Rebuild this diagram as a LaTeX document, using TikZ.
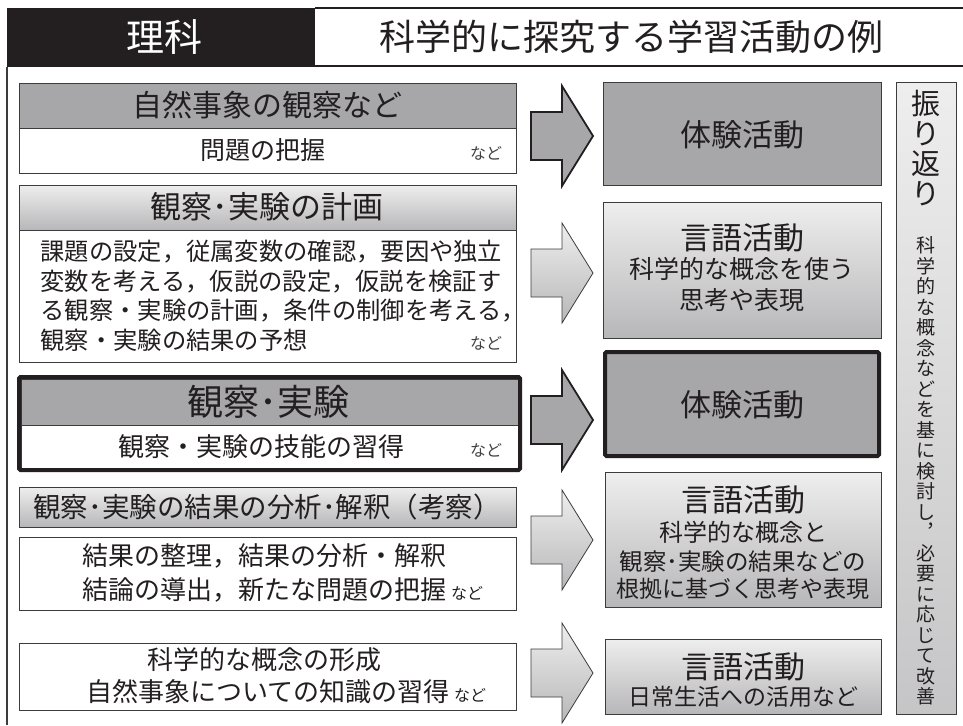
\documentclass[tikz,border=0pt]{standalone}
\usepackage{fontspec}
\setmainfont{Noto Sans CJK JP}
\usetikzlibrary{fit,shadows}
\definecolor{ink}{RGB}{35,31,32}
\definecolor{darkfill}{RGB}{167,167,170}
\definecolor{lighttop}{RGB}{238,238,238}
\definecolor{lightbot}{RGB}{183,183,185}
\definecolor{edgegray}{RGB}{60,60,60}
\newcommand\fs[1]{\fontsize{#1}{#1}\selectfont}
\newcommand\blockarrow[2]{%
  \draw[#1] (#2) ++(0,-24) -- ++(31,0) -- ++(0,-26) -- ++(31,50) -- ++(-31,50) -- ++(0,-26) -- ++(-31,0) -- cycle;}
\begin{document}
\begin{tikzpicture}[x=1pt,y=-1pt,
  every node/.style={inner sep=0pt, outer sep=0pt, text=ink},
  frm/.style={draw=edgegray, line width=0.8pt},
  shad/.style={drop shadow={shadow xshift=1.3pt, shadow yshift=-1.3pt, fill=black, opacity=0.22}},
  darkbox/.style={frm, fill=darkfill},
  lightbox/.style={frm, top color=lighttop, bottom color=lightbot},
  whitebox/.style={frm, fill=white},
  heavyframe/.style={draw=ink, line width=4pt, rounded corners=1.5pt},
  darkarrow/.style={draw=ink, line width=1.8pt, fill=darkfill, line join=miter},
  lightarrow/.style={draw=edgegray, line width=0.8pt, top color=lighttop, bottom color=lightbot, line join=miter},
  nado/.style={font=\fs{16}, text=ink!85},
  vtext/.style={align=center}
]
\useasboundingbox (0,0) rectangle (963,725);
\fill[white] (0,0) rectangle (963,725);

% ---------- header ----------
\node (hdrbox) [fill=ink, fit={(7,8) (315,67)}] {};
\node (hdrtext) at (164,37) [text=white, font=\fs{38}] {理科};
\draw[ink, line width=2pt] (315,8) -- (963,8);
\draw[ink, line width=2pt] (315,66) -- (963,66);
\node (title) at (631,37) [font=\fs{36}] {科学的に探究する学習活動の例};
\draw[edgegray, line width=1.3pt] (7,67) -- (7,725);

% ---------- left column ----------
\node (l1h) [darkbox, shad, fit={(19,83) (516,128)}] {};
\node (l1b) [whitebox, shad, fit={(19,128) (516,173)}] {};
\node (l1ht) at (267,105) [font=\fs{30}] {自然事象の観察など};
\node (l1bt) at (263,150) [font=\fs{25}] {問題の把握};
\node (l1n) at (502,153) [anchor=east, nado] {など};

\node (l2h) [lightbox, shad, fit={(19,185) (516,230)}] {};
\node (l2b) [whitebox, shad, fit={(19,230) (516,362)}] {};
\node (l2ht) at (267,207) [font=\fs{31}] {観察･実験の計画};
\node (l2bt) at (40.5,296) [anchor=west, align=left, font={\fontsize{24.3}{29.5}\selectfont}]
  {課題の設定，従属変数の確認，要因や独立\\変数を考える，仮説の設定，仮説を検証す\\る観察・実験の計画，条件の制御を考える，\\観察・実験の結果の予想};
\node (l2n) at (502,343) [anchor=east, nado] {など};

\node (l3h) [darkbox, fit={(21,379) (518,425)}] {};
\node (l3b) [whitebox, fit={(21,425) (518,468)}] {};
\node (l3f) [heavyframe, fit={(19,377) (520,470)}] {};
\node (l3ht) at (268,402) [font=\fs{36}] {観察･実験};
\node (l3bt) at (261,447) [font=\fs{26}] {観察・実験の技能の習得};
\node (l3n) at (502,450) [anchor=east, nado] {など};

\node (l4h) [lightbox, shad, fit={(19,487) (516,527)}] {};
\node (l4b) [whitebox, shad, fit={(19,537) (516,610)}] {};
\node (l4ht) at (267,507) [font=\fs{27.5}] {観察･実験の結果の分析･解釈（考察）};
\node (l4bt) at (82,573) [anchor=west, align=left, font={\fontsize{26}{34}\selectfont}]
  {結果の整理，結果の分析・解釈\\結論の導出，新たな問題の把握\hspace{5pt}{\fs{16}など}};

\node (l5) [whitebox, shad, fit={(19,643) (516,710)}] {};
\node (l5a) at (264,660) [font=\fs{26}] {科学的な概念の形成};
\node (l5b) at (86,692) [anchor=west, font=\fs{26}] {自然事象についての知識の習得\hspace{5pt}{\fs{16}など}};

% ---------- right column ----------
\node (r1) [darkbox, shad, fit={(603,82) (881,185)}] {};
\node (r1t) at (742,135) [font=\fs{31}] {体験活動};

\node (r2) [lightbox, shad, fit={(603,202) (881,338)}] {};
\node (r2a) at (742,238) [font=\fs{31}] {言語活動};
\node (r2b) at (742,269) [font=\fs{25}] {科学的な概念を使う};
\node (r2c) at (742,300) [font=\fs{25}] {思考や表現};

\node (r3) [darkbox, heavyframe, fit={(605,352) (879,456)}] {};
\node (r3t) at (742,405) [font=\fs{31}] {体験活動};

\node (r4) [lightbox, shad, fit={(605,472) (881,607)}] {};
\node (r4a) at (743,500) [font=\fs{31}] {言語活動};
\node (r4b) at (743,532) [font=\fs{24}] {科学的な概念と};
\node (r4c) at (743,562) [font=\fs{23.5}] {観察･実験の結果などの};
\node (r4d) at (743,589) [font=\fs{23}] {根拠に基づく思考や表現};

\node (r5) [lightbox, shad, fit={(605,639) (881,714)}] {};
\node (r5a) at (743,667) [font=\fs{31}] {言語活動};
\node (r5b) at (743,697) [font=\fs{23}] {日常生活への活用など};

% ---------- reflection bar ----------
\node (bar) [frm, shad, top color=lighttop, bottom color=lightbot!80!white, fit={(896,82) (956,714)}] {};
\node (bart) at (926,148) [vtext, font={\fontsize{29}{30}\selectfont}] {振\\り\\返\\り};
\node (barb) at (926,471) [vtext, font={\fontsize{19}{20.5}\selectfont}]
  {科\\学\\的\\な\\概\\念\\な\\ど\\を\\基\\に\\検\\討\\し\\︐\\必\\要\\に\\応\\じ\\て\\改\\善};

% ---------- block arrows ----------
\coordinate (a1) at (531,136);
\coordinate (a2) at (531,273);
\coordinate (a3) at (531,420);
\coordinate (a4) at (531,540);
\coordinate (a5) at (531,673);
\blockarrow{darkarrow}{a1}
\blockarrow{lightarrow}{a2}
\blockarrow{darkarrow}{a3}
\blockarrow{lightarrow}{a4}
\blockarrow{lightarrow}{a5}
\end{tikzpicture}
\end{document}
